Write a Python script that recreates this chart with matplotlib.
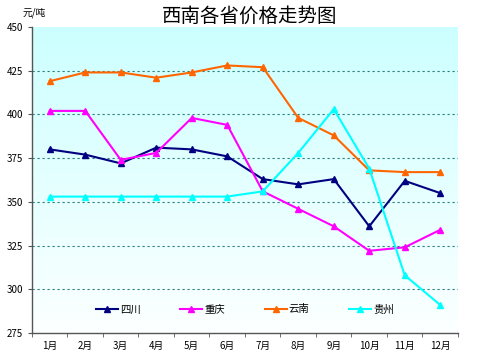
import numpy as np
import matplotlib
matplotlib.use('Agg')
import matplotlib.pyplot as plt
from matplotlib.colors import LinearSegmentedColormap

plt.rcParams['font.family'] = ['Noto Sans CJK SC', 'DejaVu Sans']

# 월별 라벨 및 각 성 가격 (元/吨)
months = ['1月', '2月', '3月', '4月', '5月', '6月', '7月', '8月', '9月', '10月', '11月', '12月']
sichuan = [380, 377, 372, 381, 380, 376, 363, 360, 363, 336, 362, 355]
chongqing = [402, 402, 374, 378, 398, 394, 356, 346, 336, 322, 324, 334]
yunnan = [419, 424, 424, 421, 424, 428, 427, 398, 388, 368, 367, 367]
guizhou = [353, 353, 353, 353, 353, 353, 356, 378, 403, 369, 308, 291]
series_names = ['四川', '重庆', '云南', '贵州']
series_colors = ['#000080', '#FF00FF', '#FF6600', '#00FFFF']
yticks = [275, 300, 325, 350, 375, 400, 425, 450]

fig = plt.figure(figsize=(5, 3.55), dpi=100)
ax = fig.add_axes([0.064, 0.062, 0.852, 0.862])

# 배경 그라데이션
cmap = LinearSegmentedColormap.from_list('bg', ['#FCFFFF', '#CCFFFF'])
grad = np.linspace(0, 1, 256).reshape(-1, 1)
ax.imshow(grad, cmap=cmap, aspect='auto', extent=[0, 1, 0, 1],
          transform=ax.transAxes, origin='lower', zorder=0)

x = np.arange(1, len(months) + 1)
for vals, name, color in zip([sichuan, chongqing, yunnan, guizhou], series_names, series_colors):
    ax.plot(x, vals, color=color, lw=1.5, marker='^', markersize=4,
            label=name, zorder=3)

ax.set_xlim(0.5, 12.5)
ax.set_ylim(275, 450)
ax.set_yticks(yticks)
for y in yticks[1:-1]:
    ax.axhline(y, color='#2A7F7F', lw=0.8, ls=(0, (2, 2.5)), zorder=1)

ax.set_xticks(x)
ax.set_xticklabels(months, fontsize=7)
ax.set_xticks(np.arange(0.5, 13), minor=True)
ax.tick_params(axis='x', which='major', length=0, pad=6)
ax.tick_params(axis='x', which='minor', length=3, color='#555555')
ax.tick_params(axis='y', labelsize=7, length=3, color='#555555')

for s in ['top', 'right']:
    ax.spines[s].set_visible(False)
for s in ['left', 'bottom']:
    ax.spines[s].set_color('#555555')
    ax.spines[s].set_linewidth(1)

ax.legend(loc='lower center', bbox_to_anchor=(0.5, 0.03), ncol=4, frameon=False,
          fontsize=7.5, handlelength=2.1, columnspacing=3.8, handletextpad=0.2)

fig.text(0.5, 0.955, '西南各省价格走势图', ha='center', va='center', fontsize=14)
fig.text(0.045, 0.965, '元/吨', ha='left', va='center', fontsize=7)

fig.savefig('out.png', dpi=100)
